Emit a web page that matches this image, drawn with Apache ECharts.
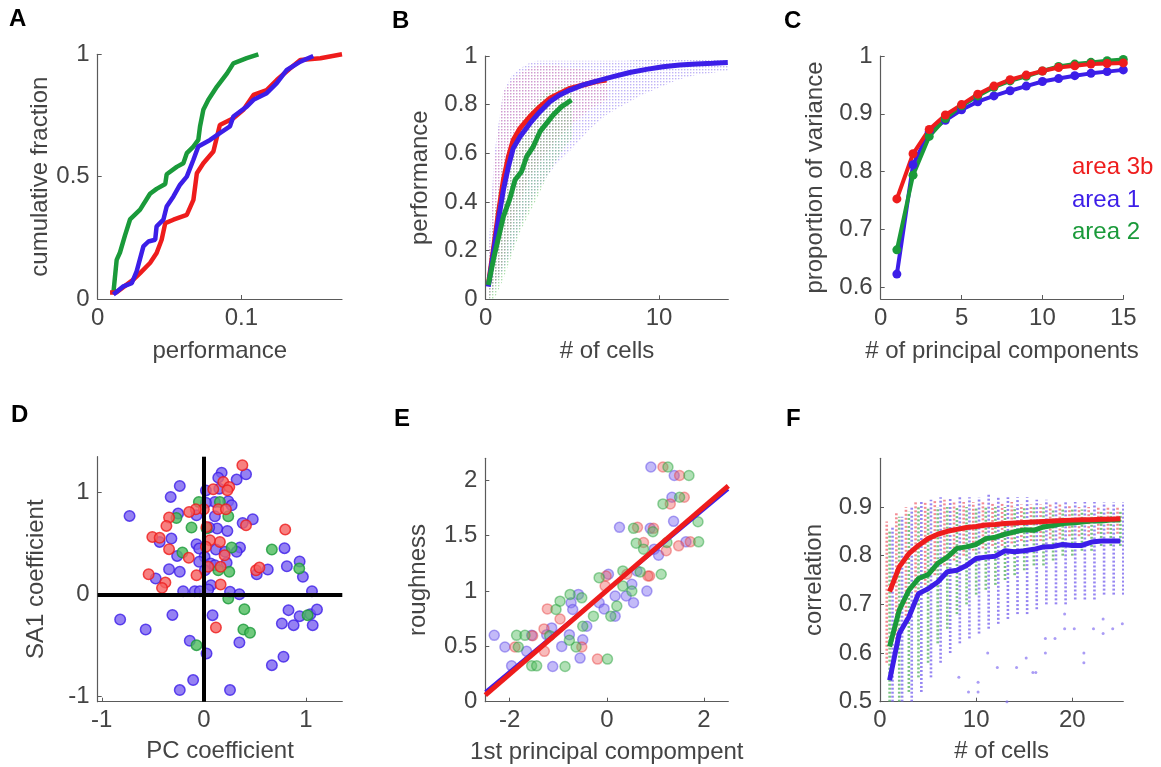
<!DOCTYPE html>
<html><head><meta charset="utf-8">
<script src="https://cdn.jsdelivr.net/npm/echarts@6/dist/echarts.min.js"></script>
<style>html,body{margin:0;padding:0;background:#fff}#c{width:1161px;height:767px}</style>
</head><body><div id="c"></div>
<script>
// ---------------- Panel A ----------------
const aXTicks = [0, 0.1];
const aYTicks = [0, 0.5, 1];
const aGreen = [[0.0109,0.024],[0.0132,0.16],[0.0155,0.19],[0.019,0.26],[0.0225,0.325],[0.0295,0.365],[0.0364,0.43],[0.041,0.45],[0.047,0.47],[0.048,0.51],[0.055,0.54],[0.0596,0.555],[0.062,0.596],[0.0666,0.623],[0.070,0.65],[0.0712,0.705],[0.0735,0.773],[0.077,0.814],[0.083,0.868],[0.090,0.922],[0.0944,0.963],[0.1037,0.984],[0.1118,1.0]];
const aRed = [[0.0086,0.027],[0.013,0.027],[0.0248,0.079],[0.0295,0.106],[0.0364,0.147],[0.041,0.188],[0.0445,0.242],[0.047,0.31],[0.0527,0.324],[0.062,0.344],[0.0666,0.405],[0.069,0.514],[0.0735,0.555],[0.0805,0.603],[0.085,0.711],[0.0944,0.739],[0.1014,0.773],[0.1084,0.834],[0.1176,0.854],[0.1246,0.895],[0.134,0.943],[0.141,0.977],[0.155,0.984],[0.170,1.0]];
const aBlue = [[0.0109,0.018],[0.0179,0.052],[0.0237,0.065],[0.0271,0.113],[0.0318,0.215],[0.0353,0.235],[0.04,0.242],[0.041,0.297],[0.0457,0.324],[0.048,0.378],[0.0527,0.419],[0.0573,0.467],[0.062,0.50],[0.0666,0.569],[0.070,0.623],[0.0782,0.65],[0.085,0.678],[0.092,0.705],[0.0944,0.746],[0.1037,0.786],[0.1084,0.814],[0.1176,0.841],[0.1246,0.882],[0.1316,0.936],[0.141,0.97],[0.150,0.993]];

// ---------------- Panel B ----------------
const bXTicks = [0, 10];
const bYTicks = [0, 0.2, 0.4, 0.6, 0.8, 1];
const bRed = [[0.15,0.059],[0.44,0.203],[0.73,0.353],[1.02,0.49],[1.31,0.586],[1.59,0.655],[1.98,0.703],[2.55,0.751],[3.13,0.792],[3.70,0.826],[4.28,0.847],[4.86,0.867],[5.62,0.881],[6.39,0.895],[6.97,0.901]];
const bBlue = [[0.15,0.052],[0.44,0.189],[0.73,0.326],[1.02,0.449],[1.31,0.545],[1.59,0.621],[1.98,0.668],[2.55,0.723],[3.13,0.771],[3.70,0.812],[4.28,0.84],[4.86,0.86],[5.62,0.881],[6.39,0.897],[7.35,0.915],[8.31,0.932],[9.27,0.945],[10.23,0.956],[11.19,0.963],[12.15,0.967],[13.11,0.970],[13.97,0.973]];
const bGreen = [[0.15,0.059],[0.44,0.162],[0.73,0.251],[1.02,0.340],[1.40,0.415],[1.69,0.49],[2.07,0.525],[2.36,0.586],[2.74,0.627],[3.13,0.689],[3.51,0.723],[3.90,0.758],[4.38,0.792],[4.95,0.819]];
// scatter cloud envelopes
const bBlueCloudX = [0.2,0.5,1,1.5,2,2.5,3,4,5,6,7,8,9,10,11,12,13,14];
const bBlueCloudHi = [0.25,0.6,0.85,0.92,0.95,0.97,0.98,0.98,0.98,0.98,0.98,0.98,0.985,0.985,0.985,0.985,0.985,0.985];
const bBlueCloudLo = [0.0,0.05,0.12,0.2,0.3,0.38,0.45,0.55,0.62,0.7,0.76,0.8,0.84,0.87,0.9,0.92,0.93,0.94];
const bRedCloudX = [0.2,0.5,1,1.5,2,2.5,3,4,5,6,7];
const bRedCloudHi = [0.2,0.55,0.85,0.9,0.93,0.95,0.96,0.96,0.95,0.94,0.93];
const bRedCloudLo = [0.0,0.05,0.15,0.3,0.4,0.5,0.55,0.65,0.72,0.78,0.82];
const bGreenCloudX = [0.2,0.5,1,1.5,2,2.5,3,3.5,4,4.5,5];
const bGreenCloudHi = [0.15,0.35,0.55,0.65,0.72,0.77,0.82,0.85,0.87,0.88,0.88];
const bGreenCloudLo = [0.0,0.0,0.08,0.18,0.28,0.35,0.42,0.5,0.56,0.62,0.66];

// ---------------- Panel C ----------------
const cXTicks = [0, 5, 10, 15];
const cYTicks = [0.6, 0.7, 0.8, 0.9, 1];
const cX = [1,2,3,4,5,6,7,8,9,10,11,12,13,14,15];
const cRed = [0.753,0.831,0.873,0.898,0.916,0.934,0.948,0.959,0.967,0.974,0.980,0.983,0.986,0.987,0.988];
const cBlue = [0.623,0.812,0.869,0.889,0.907,0.921,0.931,0.94,0.948,0.956,0.961,0.966,0.970,0.973,0.976];
const cGreen = [0.665,0.794,0.861,0.892,0.914,0.931,0.946,0.957,0.965,0.974,0.982,0.986,0.989,0.992,0.994];
const cLegend = ['area 3b', 'area 1', 'area 2'];

// ---------------- Panel D ----------------
const dXTicks = [-1, 0, 1];
const dYTicks = [-1, 0, 1];
const dBlue = [[-0.728,0.77],[-0.82,-0.245],[-0.57,-0.343],[-0.308,-0.20],[-0.203,0.033],[-0.325,0.956],[-0.236,1.064],[-0.252,0.793],[-0.318,0.548],[-0.433,0.515],[-0.341,0.248],[-0.236,0.222],[-0.262,0.378],[-0.472,0.157],[-0.138,-0.453],[-0.105,-0.838],[-0.236,-0.936],[0.026,-0.577],[-0.089,0.033],[-0.039,0.033],[0.02,1.02],[0.151,1.037],[0.174,1.194],[0.141,1.145],[0.321,1.126],[0.413,1.178],[0.239,0.914],[0.272,0.874],[0.108,0.907],[0.02,0.90],[-0.072,0.777],[0.108,0.767],[0.131,0.646],[0.23,0.623],[0.052,0.656],[-0.072,0.493],[-0.046,0.45],[0.007,0.369],[-0.046,0.32],[0.066,0.303],[0.108,0.287],[0.223,0.31],[0.01,0.238],[0.118,0.44],[0.207,0.418],[0.354,0.46],[0.321,0.418],[0.479,0.737],[0.38,0.70],[0.518,0.199],[0.626,0.245],[0.813,0.277],[0.79,0.454],[0.938,0.323],[0.97,0.173],[1.059,0.033],[0.069,0.091],[0.043,0.049],[0.256,0.026],[0.348,0.003],[0.085,-0.202],[0.348,-0.47],[0.764,-0.284],[0.829,-0.153],[0.879,-0.30],[0.938,-0.212],[1.043,-0.193],[1.108,-0.147],[1.066,-0.30],[0.78,-0.61],[0.666,-0.692],[0.256,-0.936]];
const dRed = [[0.377,1.266],[0.092,1.031],[0.19,1.103],[0.249,1.054],[0.23,1.021],[0,0.835],[-0.079,0.835],[-0.144,0.809],[0.141,0.835],[0.216,0.835],[-0.341,0.754],[-0.367,0.672],[-0.505,0.564],[-0.433,0.555],[-0.341,0.444],[0.026,0.662],[0.413,0.679],[0.797,0.636],[0.157,0.515],[0.059,0.532],[0.02,0.467],[0.203,0.385],[-0.148,0.359],[0.043,0.271],[0.164,0.271],[-0.072,0.189],[-0.541,0.199],[-0.377,0.117],[-0.41,0.065],[0.164,0.098],[0.511,0.238],[0.544,0.264],[0.118,-0.323]];
const dGreen = [[-0.049,0.907],[-0.121,0.656],[-0.269,0.75],[-0.21,0.411],[0.026,0.646],[0.239,0.767],[0.272,0.46],[0.141,0.238],[0.249,0.222],[0.666,0.44],[0.934,0.254],[0.239,-0.039],[0.397,-0.144],[0.387,-0.343],[0.452,-0.375],[-0.072,-0.496],[1.016,-0.202],[0.157,0.907]];

// ---------------- Panel E ----------------
const eXTicks = [-2, 0, 2];
const eYTicks = [0, 0.5, 1, 1.5, 2];
const eBlue = [[-2.316,0.6],[-2.096,0.494],[-1.959,0.324],[-1.546,0.6],[-1.65,0.455],[-1.134,0.667],[-1.237,0.606],[-1.113,0.318],[-0.928,0.5],[-0.77,0.606],[-0.735,0.894],[-0.701,0.833],[-0.584,0.97],[-0.55,0.394],[-0.495,0.56],[-0.412,0.682],[-0.158,0.894],[-0.055,0.839],[0.034,1.152],[0.172,0.773],[0.172,0.955],[0.399,0.955],[0.515,1.061],[0.55,0.894],[0.825,1.0],[0.619,1.182],[0.261,1.576],[0.893,1.567],[0.907,2.121],[0.976,1.379],[1.065,1.324],[1.388,2.045],[1.34,1.848],[1.374,1.63],[1.629,1.445]];
const eRed = [[-1.223,0.839],[-0.962,0.748],[-1.292,0.658],[-1.285,0.455],[-1.89,0.494],[-1.526,0.597],[-0.515,0.494],[-0.192,0.385],[-0.034,1.045],[-0.014,1.136],[0.88,1.136],[0.756,1.439],[0.632,1.576],[0.962,1.567],[1.155,2.121],[1.498,2.045],[1.594,1.848],[1.306,1.788],[1.223,1.364],[1.478,1.409],[1.718,1.445],[0.845,1.136],[0.412,1.152]];
const eGreen = [[-1.856,0.6],[-1.821,0.494],[-1.684,0.6],[-1.546,0.324],[-1.443,0.324],[-0.859,0.318],[-1.045,0.833],[-0.962,0.909],[-0.756,0.97],[-0.515,0.939],[-0.632,0.494],[-0.495,0.682],[-0.275,0.773],[-0.158,1.121],[0.014,0.385],[0.082,0.773],[0.206,0.864],[0.33,1.045],[0.33,1.182],[0.515,1.0],[0.55,1.567],[0.605,1.433],[0.687,1.173],[0.756,1.379],[0.948,1.536],[1.12,1.152],[1.155,1.788],[1.258,2.121],[1.498,1.848],[1.69,2.045],[1.876,1.627],[1.89,1.445],[1.237,1.439],[-0.77,0.555],[-1.175,0.597]];
const eFitBlue = [[-2.5,0.09],[2.5,1.92]];
const eFitRed = [[-2.5,0.06],[2.5,1.95]];

// ---------------- Panel F ----------------
const fXTicks = [0, 10, 20];
const fYTicks = [0.5, 0.6, 0.7, 0.8, 0.9];
const fX = [1,2,3,4,5,6,7,8,9,10,11,12,13,14,15,16,17,18,19,20,21,22,23,24,25];
const fRed = [0.726,0.777,0.804,0.821,0.835,0.844,0.850,0.854,0.858,0.860,0.863,0.864,0.866,0.867,0.868,0.869,0.870,0.871,0.872,0.873,0.874,0.874,0.875,0.875,0.876];
const fGreen = [0.613,0.688,0.729,0.753,0.761,0.784,0.797,0.815,0.818,0.823,0.835,0.838,0.844,0.849,0.853,0.852,0.859,0.862,0.866,0.867,0.869,0.871,0.871,0.873,0.873];
const fBlue = [0.544,0.640,0.674,0.722,0.732,0.746,0.767,0.770,0.780,0.794,0.797,0.799,0.810,0.808,0.810,0.813,0.818,0.819,0.823,0.821,0.821,0.828,0.830,0.830,0.830];
const fRedLo = [0.58,0.62,0.66,0.70,0.74,0.76,0.78,0.79,0.80,0.81,0.815,0.82,0.82,0.825,0.83,0.83,0.83,0.835,0.835,0.84,0.84,0.84,0.845,0.845,0.845];
const fRedHi = [0.87,0.89,0.90,0.91,0.91,0.915,0.915,0.91,0.91,0.91,0.91,0.91,0.91,0.91,0.905,0.905,0.905,0.905,0.905,0.905,0.9,0.9,0.9,0.9,0.9];
const fGreenLo = [0.50,0.50,0.52,0.55,0.58,0.62,0.65,0.68,0.70,0.72,0.73,0.74,0.75,0.76,0.77,0.78,0.78,0.79,0.8,0.8,0.81,0.81,0.82,0.82,0.82];
const fGreenHi = [0.85,0.88,0.89,0.9,0.9,0.9,0.9,0.9,0.9,0.9,0.9,0.9,0.9,0.9,0.9,0.9,0.9,0.895,0.895,0.895,0.895,0.89,0.89,0.89,0.89];
const fBlueLo = [0.50,0.50,0.50,0.52,0.55,0.58,0.60,0.62,0.63,0.64,0.65,0.66,0.67,0.68,0.68,0.69,0.70,0.70,0.70,0.71,0.71,0.71,0.72,0.72,0.72];
const fBlueHi = [0.86,0.88,0.9,0.91,0.915,0.92,0.92,0.92,0.92,0.92,0.925,0.92,0.92,0.92,0.92,0.915,0.915,0.91,0.91,0.91,0.91,0.91,0.91,0.91,0.91];
const fBlueOutliers = [[10.2,0.52],[10.2,0.54],[12.2,0.57],[14.2,0.57],[15.2,0.59],[16.2,0.56],[17.2,0.6],[18.2,0.63],[19.2,0.65],[20.2,0.65],[21.2,0.58],[21.2,0.6],[22.2,0.65],[23.2,0.64],[24.2,0.65],[25.2,0.66],[13.2,0.5],[8.2,0.55],[9.2,0.52],[11.2,0.6],[15.9,0.56],[17.2,0.63],[19.2,0.68],[23.2,0.67]];

// ---------------- styling ----------------
const RED = '#ee1c1c', BLUE = '#3c1ee8', GREEN = '#1a9a3a';
const FONT = '"Liberation Sans", Arial, Helvetica, sans-serif';
const TXT = '#444444', AX = '#5a5a5a';

// speckle pattern (dotted texture for the scatter clouds)
function speckle(color) {
  const c = document.createElement('canvas');
  c.width = 3; c.height = 3;
  const g = c.getContext('2d');
  g.fillStyle = color;
  g.fillRect(0, 0, 1.4, 1.4);
  return {image: c, repeat: 'repeat'};
}

const grids = [
  {left: 97.7, top: 54.3, width: 244.3, height: 244.7},
  {left: 485.7, top: 56, width: 242.6, height: 243.3},
  {left: 880.7, top: 56, width: 242.6, height: 243},
  {left: 97.7, top: 456.7, width: 244.6, height: 245},
  {left: 485.3, top: 458.3, width: 243, height: 243.4},
  {left: 880, top: 458.3, width: 243.3, height: 243.4}
];

function xAx(gi, min, max, ticks, name, gap) {
  return {type: 'value', gridIndex: gi, min, max, name, nameLocation: 'middle', nameGap: gap,
    nameTextStyle: {fontSize: 24, color: TXT, fontFamily: FONT},
    axisLine: {show: true, onZero: false, lineStyle: {color: AX, width: 1.2}},
    axisTick: {show: true, inside: true, length: 4, customValues: ticks, lineStyle: {color: AX}},
    axisLabel: {customValues: ticks, fontSize: 24, color: TXT, fontFamily: FONT, margin: 7},
    splitLine: {show: false}};
}
function yAx(gi, min, max, ticks, name, gap) {
  return {type: 'value', gridIndex: gi, min, max, name, nameLocation: 'middle', nameGap: gap,
    nameTextStyle: {fontSize: 24, color: TXT, fontFamily: FONT},
    axisLine: {show: true, onZero: false, lineStyle: {color: AX, width: 1.2}},
    axisTick: {show: true, inside: true, length: 4, customValues: ticks, lineStyle: {color: AX}},
    axisLabel: {customValues: ticks, fontSize: 24, color: TXT, fontFamily: FONT, margin: 8},
    splitLine: {show: false}};
}
function line(i, data, color, w, z) {
  return {type: 'line', xAxisIndex: i, yAxisIndex: i, data, showSymbol: false, symbol: 'none',
    lineStyle: {color, width: w}, z: z || 3, silent: true};
}
function band(i, xs, lo, hi, fill) {
  return {type: 'custom', xAxisIndex: i, yAxisIndex: i, data: [[xs[0], lo[0]]], silent: true, clip: true, z: 1,
    renderItem: function (p, api) {
      const pts = [];
      for (let k = 0; k < xs.length; k++) pts.push(api.coord([xs[k], hi[k]]));
      for (let k = xs.length - 1; k >= 0; k--) pts.push(api.coord([xs[k], lo[k]]));
      return {type: 'polygon', shape: {points: pts}, style: {fill: fill}};
    }};
}
function cols(i, xs, lo, hi, dx, color) {
  const d = xs.map((x, k) => [x, lo[k], hi[k]]);
  return {type: 'custom', xAxisIndex: i, yAxisIndex: i, data: d, silent: true, clip: true, z: 1,
    encode: {x: 0, y: [1, 2]},
    renderItem: function (p, api) {
      const a = api.coord([api.value(0) + dx, api.value(1)]);
      const b = api.coord([api.value(0) + dx, api.value(2)]);
      return {type: 'line', shape: {x1: a[0], y1: a[1], x2: b[0], y2: b[1]},
        style: {stroke: color, lineWidth: 2.6, lineDash: [2, 2]}};
    }};
}
function scat(i, data, fill, border, size, z) {
  return {type: 'scatter', xAxisIndex: i, yAxisIndex: i, data, symbolSize: size, silent: true, z: z || 2,
    itemStyle: {color: fill, borderColor: border, borderWidth: 1.5}};
}

const pairs = (xs, ys) => xs.map((x, k) => [x, ys[k]]);

const series = [
  // A
  line(0, aGreen, GREEN, 4.5),
  line(0, aRed, RED, 4.5),
  line(0, aBlue, BLUE, 4.5),
  // B
  band(1, bBlueCloudX, bBlueCloudLo, bBlueCloudHi, speckle('rgba(150,130,240,0.6)')),
  band(1, bRedCloudX, bRedCloudLo, bRedCloudHi, speckle('rgba(240,120,150,0.4)')),
  band(1, bGreenCloudX, bGreenCloudLo, bGreenCloudHi, speckle('rgba(120,200,120,0.6)')),
  line(1, bRed, RED, 5),
  line(1, bBlue, BLUE, 5),
  line(1, bGreen, GREEN, 5),
  // C
  Object.assign(line(2, pairs(cX, cBlue), BLUE, 4), {showSymbol: true, symbol: 'circle', symbolSize: 9, itemStyle: {color: BLUE}}),
  Object.assign(line(2, pairs(cX, cGreen), GREEN, 4), {showSymbol: true, symbol: 'circle', symbolSize: 9, itemStyle: {color: GREEN}}),
  Object.assign(line(2, pairs(cX, cRed), RED, 4), {showSymbol: true, symbol: 'circle', symbolSize: 9, itemStyle: {color: RED}}),
  // D
  Object.assign(scat(3, dBlue, '#7a62f0', BLUE, 10.5), {
    markLine: {silent: true, symbol: 'none', label: {show: false}, animation: false,
      lineStyle: {color: '#000', width: 4, type: 'solid'}, data: [{xAxis: 0}, {yAxis: 0}]}}),
  scat(3, dGreen, '#4cbb5c', GREEN, 10.5),
  scat(3, dRed, '#f56060', RED, 10.5),
  // E
  scat(4, eBlue, 'rgba(130,110,240,0.6)', 'rgba(90,70,230,0.6)', 10),
  scat(4, eRed, 'rgba(240,100,100,0.55)', 'rgba(230,60,60,0.55)', 10),
  scat(4, eGreen, 'rgba(90,190,100,0.6)', 'rgba(40,160,60,0.6)', 10),
  line(4, eFitBlue, BLUE, 3, 4),
  line(4, eFitRed, RED, 5, 5),
  // F
  cols(5, fX, fRedLo, fRedHi, -0.3, 'rgba(240,110,120,0.8)'),
  cols(5, fX, fGreenLo, fGreenHi, 0, 'rgba(90,180,100,0.8)'),
  cols(5, fX, fBlueLo, fBlueHi, 0.3, 'rgba(130,110,240,0.85)'),
  {type: 'scatter', xAxisIndex: 5, yAxisIndex: 5, data: fBlueOutliers, symbolSize: 3, silent: true, z: 1,
    itemStyle: {color: 'rgba(130,110,240,0.85)'}},
  line(5, pairs(fX, fBlue), BLUE, 5),
  line(5, pairs(fX, fGreen), GREEN, 5),
  line(5, pairs(fX, fRed), RED, 5)
];

const letterFont = 'bold 24px "Liberation Sans Narrow", "Liberation Sans", Arial, sans-serif';
const letters = [['A', 9, 7], ['B', 392, 9], ['C', 784, 9], ['D', 11, 403], ['E', 394, 407], ['F', 786, 407]];
const graphic = letters.map(l => ({type: 'text', left: l[1], top: l[2], silent: true,
  style: {text: l[0], font: letterFont, fill: '#000'}}));
const legColors = [RED, BLUE, GREEN];
const legTops = [155, 188, 220];
cLegend.forEach((t, k) => graphic.push({type: 'text', left: 1072, top: legTops[k], silent: true,
  style: {text: t, font: '24px ' + FONT, fill: legColors[k]}}));

const option = {
  animation: false,
  backgroundColor: '#fff',
  grid: grids,
  xAxis: [
    xAx(0, 0, 0.17, aXTicks, 'performance', 40),
    xAx(1, 0, 14, bXTicks, '# of cells', 40),
    xAx(2, 0, 15, cXTicks, '# of principal components', 40),
    xAx(3, -1.04, 1.356, dXTicks, 'PC coefficient', 38),
    xAx(4, -2.5, 2.5, eXTicks, '1st principal compompent', 39),
    xAx(5, 0, 25.3, fXTicks, '# of cells', 38)
  ],
  yAxis: [
    yAx(0, 0, 1, aYTicks, 'cumulative fraction', 45),
    yAx(1, 0, 1, bYTicks, 'performance', 53),
    yAx(2, 0.58, 1, cYTicks, 'proportion of variance', 53),
    yAx(3, -1.05, 1.35, dYTicks, 'SA1 coefficient', 49),
    yAx(4, 0, 2.2, eYTicks, 'roughness', 55),
    yAx(5, 0.5, 1.0, fYTicks, 'correlation', 54)
  ],
  series,
  graphic
};
const chart = echarts.init(document.getElementById('c'), null, {renderer: 'canvas'});
chart.setOption(option);
</script>
</body></html>
